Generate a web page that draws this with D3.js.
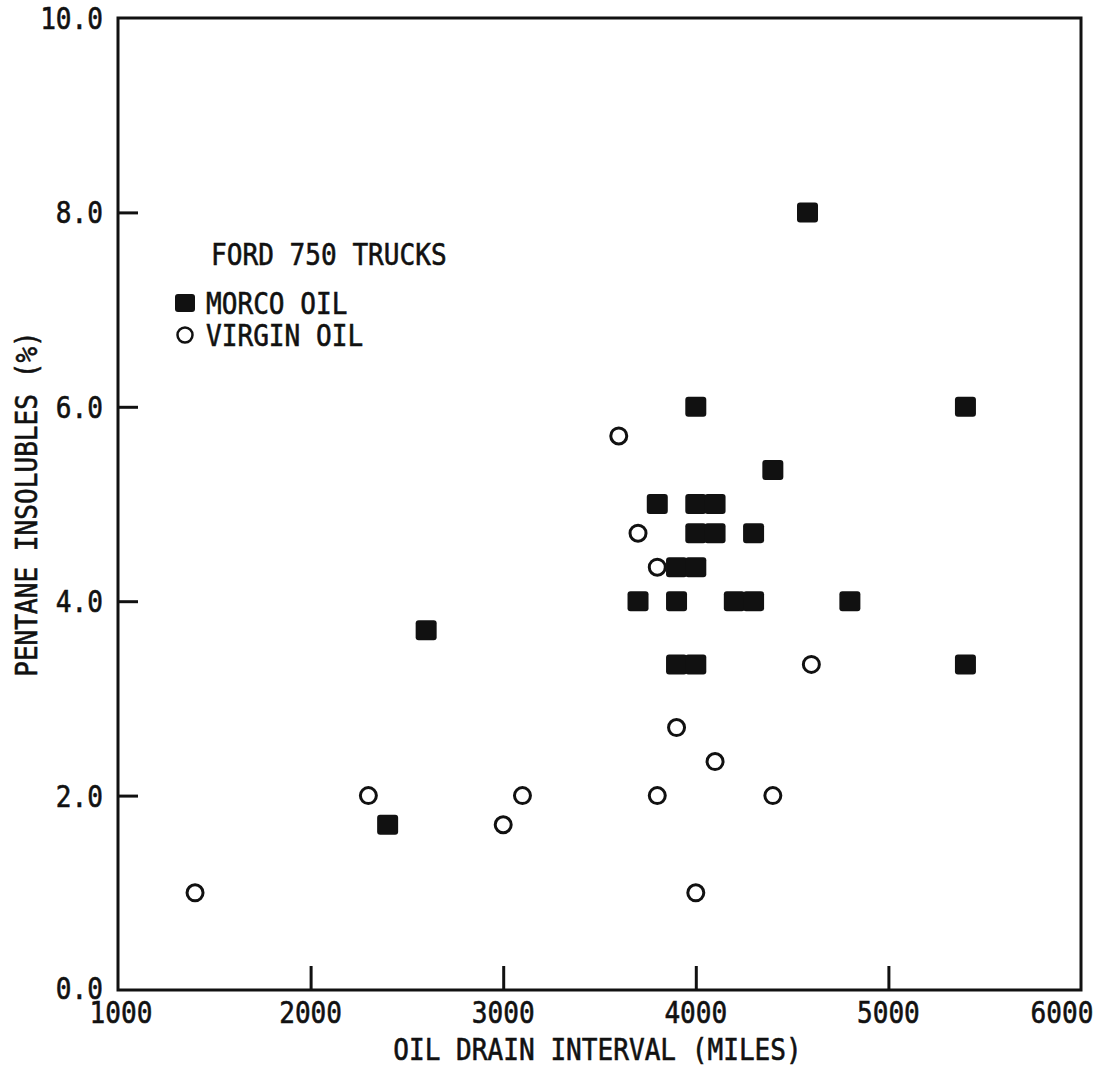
<!DOCTYPE html>
<html>
<head>
<meta charset="utf-8">
<script src="https://cdn.jsdelivr.net/npm/d3@7"></script>
<style>
  html, body { margin: 0; padding: 0; background: #ffffff; }
  svg text { font-family: "DejaVu Sans Mono", "Liberation Mono", monospace; fill: #111; }
</style>
</head>
<body>
<svg id="chart" width="1107" height="1085"></svg>
<script>
// ---- Data ----
const morcoMiles = [4580, 4000, 5400, 4400, 3800, 4000, 4100, 4000, 4100, 4300,
                    3900, 4000, 3700, 3900, 4200, 4300, 4800, 2600, 3900, 4000, 5400, 2400];
const morcoInsol = [8.0, 6.0, 6.0, 5.35, 5.0, 5.0, 5.0, 4.7, 4.7, 4.7,
                    4.35, 4.35, 4.0, 4.0, 4.0, 4.0, 4.0, 3.7, 3.35, 3.35, 3.35, 1.7];
const virginMiles = [3600, 3700, 3800, 4600, 3900, 4100, 2300, 3100, 3800, 4400, 3000, 1400, 4000];
const virginInsol = [5.7, 4.7, 4.35, 3.35, 2.7, 2.35, 2.0, 2.0, 2.0, 2.0, 1.7, 1.0, 1.0];

const xTicks = [2000, 3000, 4000, 5000];
const xTickLabels = ["1000", "2000", "3000", "4000", "5000", "6000"];
const xLabelValues = [1000, 2000, 3000, 4000, 5000, 6000];
const yTicks = [2, 4, 6, 8];
const yLabelValues = [0, 2, 4, 6, 8, 10];
const yTickLabels = ["0.0", "2.0", "4.0", "6.0", "8.0", "10.0"];

const title = "FORD 750 TRUCKS";
const seriesNames = ["MORCO OIL", "VIRGIN OIL"];
const xTitle = "OIL DRAIN INTERVAL (MILES)";
const yTitle = "PENTANE INSOLUBLES (%)";

(function draw() {
  const svg = d3.select("#chart");
  const pL = 118, pR = 1081, pT = 18, pB = 990;
  const x = d3.scaleLinear().domain([1000, 6000]).range([pL, pR]);
  const y = d3.scaleLinear().domain([0, 10]).range([pB, pT]);
  const ink = "#111";
  const fs = 30, sx = 0.87;

  // condensed-looking text: scale horizontally
  function label(px, py, str, anchor, size, rot) {
    return svg.append("text")
      .attr("transform", `translate(${px},${py})${rot ? ` rotate(${rot})` : ""} scale(${sx},1)`)
      .attr("text-anchor", anchor || "start")
      .attr("font-size", size || fs)
      .attr("stroke", ink).attr("stroke-width", 0.6)
      .text(str);
  }

  // Frame
  svg.append("rect")
    .attr("x", pL).attr("y", pT)
    .attr("width", pR - pL).attr("height", pB - pT)
    .attr("fill", "none").attr("stroke", ink).attr("stroke-width", 3);

  // Inward ticks via axes (no labels)
  const xAxis = d3.axisTop(x).tickValues(xTicks).tickSize(24).tickFormat("");
  svg.append("g").attr("transform", `translate(0,${pB})`).call(xAxis)
    .call(g => g.select(".domain").remove())
    .call(g => g.selectAll("line").attr("stroke", ink).attr("stroke-width", 3));

  const yAxis = d3.axisRight(y).tickValues(yTicks).tickSize(20).tickFormat("");
  svg.append("g").attr("transform", `translate(${pL},0)`).call(yAxis)
    .call(g => g.select(".domain").remove())
    .call(g => g.selectAll("line").attr("stroke", ink).attr("stroke-width", 3));

  // Tick labels
  xLabelValues.forEach((d, i) => {
    let px = x(d);
    if (d === 1000) px += 3;
    if (d === 6000) px -= 19;
    label(px, pB + 33, xTickLabels[i], "middle");
  });
  yLabelValues.forEach((d, i) => {
    label(103, y(d) + 11 - (d === 0 ? 2 : 0), yTickLabels[i], "end");
  });

  // Axis titles
  label((pL + pR) / 2 - 2, 1060, xTitle, "middle");
  label(37, (pT + pB) / 2, yTitle, "middle", fs, -90);

  // Markers
  const sq = 21;
  svg.append("g").selectAll("rect").data(morcoMiles.map((m, i) => [m, morcoInsol[i]])).join("rect")
    .attr("x", d => x(d[0]) - sq / 2)
    .attr("y", d => y(d[1]) - sq / 2 + 0.5)
    .attr("width", sq).attr("height", sq - 1)
    .attr("rx", 3)
    .attr("fill", ink);

  svg.append("g").selectAll("circle").data(virginMiles.map((m, i) => [m, virginInsol[i]])).join("circle")
    .attr("cx", d => x(d[0]))
    .attr("cy", d => y(d[1]))
    .attr("r", 8)
    .attr("fill", "#fff")
    .attr("stroke", ink).attr("stroke-width", 3);

  // Legend
  label(211, 265, title, "start");
  svg.append("rect").attr("x", 175).attr("y", 294).attr("width", 20).attr("height", 18).attr("rx", 3).attr("fill", ink);
  label(206, 314, seriesNames[0], "start");
  svg.append("circle").attr("cx", 185).attr("cy", 335).attr("r", 7.5).attr("fill", "#fff")
    .attr("stroke", ink).attr("stroke-width", 2.5);
  label(206, 346, seriesNames[1], "start");
})();
</script>
</body>
</html>
